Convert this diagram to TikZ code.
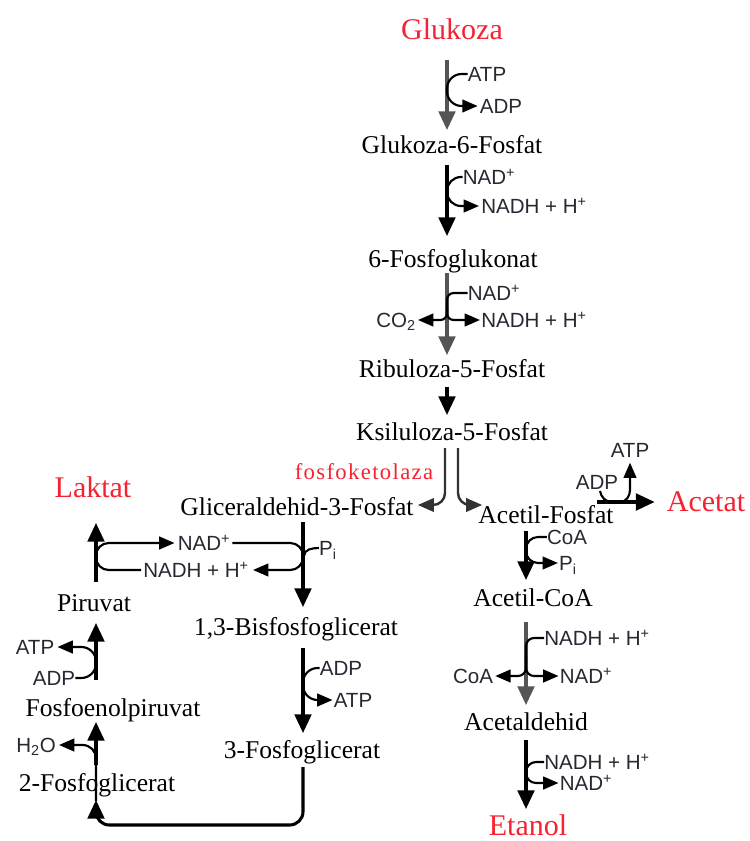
\documentclass[tikz,border=0pt]{standalone}
\usepackage{fontspec}
\setmainfont{Liberation Serif}
\newfontfamily\cofont{Liberation Sans}
\newfontfamily\enzfont[LetterSpace=6]{Liberation Serif}
\usetikzlibrary{arrows.meta,calc}
\definecolor{redlbl}{RGB}{245,35,50}
\definecolor{graypath}{RGB}{85,85,85}
\definecolor{cofcol}{RGB}{40,40,50}
\definecolor{darkpath}{RGB}{50,50,50}
\begin{document}
\begin{tikzpicture}[x=0.75pt,y=-0.75pt,
  metab/.style={inner sep=0pt, font=\fontsize{19.2}{22}\selectfont, text height=12.7pt, text depth=0pt},
  endp/.style={inner sep=0pt, font=\fontsize{22.5}{26}\selectfont, text=redlbl, text height=14.9pt, text depth=0pt},
  enz/.style={inner sep=0pt, font=\enzfont\fontsize{17}{20}\selectfont, text=redlbl, text height=11.2pt, text depth=0pt},
  cof/.style={inner sep=0pt, font=\cofont\fontsize{15.4}{18}\selectfont, text=cofcol, text height=11pt, text depth=0pt},
  flow/.style={line width=2.3pt, -{Triangle[length=14pt,width=12.5pt]}},
  flowgray/.style={flow, draw=graypath, fill=black!80},
  thinflow/.style={line width=1.8pt, draw=darkpath, -{Triangle[length=12pt,width=10pt]}},
  side/.style={line width=1.6pt, draw=black},
  sidearr/.style={side, -{Triangle[length=11.5pt,width=9.5pt]}},
  trim/.style 2 args={shorten <=#1*0.75pt, shorten >=#2*0.75pt},
]
\fill[white] (0,0) rectangle (749,841);
\useasboundingbox (0,0) rectangle (749,841);

% column coordinates
\coordinate (cA) at (447,0);
\coordinate (cL) at (445,0);
\coordinate (cR) at (458,0);
\coordinate (cB) at (303,0);
\coordinate (cC) at (526,0);
\coordinate (cD) at (96,0);
\coordinate (bot) at (0,825);
\coordinate (j3) at (447,307);
\coordinate (j8) at (526,657);

% metabolites
\node[endp] (glukoza) at (452,30) {Glukoza};
\node[metab] (g6p) at (452,145) {Glukoza-6-Fosfat};
\node[metab] (fg) at (453,259) {6-Fosfoglukonat};
\node[metab] (r5p) at (452,369) {Ribuloza-5-Fosfat};
\node[metab] (x5p) at (452,432) {Ksiluloza-5-Fosfat};
\node[enz] (fk) at (364,472) {fosfoketolaza};
\node[metab] (gap) at (297,507) {Gliceraldehid-3-Fosfat};
\node[metab] (af) at (546,515) {Acetil-Fosfat};
\node[endp] (acetat) at (706,502) {Acetat};
\node[endp] (laktat) at (93,488) {Laktat};
\node[metab] (acoa) at (533,598) {Acetil-CoA};
\node[metab] (acald) at (526,722) {Acetaldehid};
\node[endp] (etanol) at (528,826) {Etanol};
\node[metab] (bpg) at (296,627) {1,3-Bisfosfoglicerat};
\node[metab] (pg3) at (302,750) {3-Fosfoglicerat};
\node[metab] (pir) at (94,603) {Piruvat};
\node[metab] (pep) at (113,708) {Fosfoenolpiruvat};
\node[metab] (pg2) at (97,783) {2-Fosfoglicerat};

% cofactors
\node[cof] (atp1) at (487,74) {ATP};
\node[cof] (adp1) at (501,106) {ADP};
\node[cof] (nad1) at (489,177) {NAD\textsuperscript{+}};
\node[cof] (nadh1) at (534,206) {NADH + H\textsuperscript{+}};
\node[cof] (nad2) at (494,293) {NAD\textsuperscript{+}};
\node[cof] (nadh2) at (534,320) {NADH + H\textsuperscript{+}};
\node[cof] (co2) at (396,320) {CO\textsubscript{2}};
\node[cof] (atp3) at (630,450) {ATP};
\node[cof] (adp3) at (597,482) {ADP};
\node[cof] (nad4) at (204,543) {NAD\textsuperscript{+}};
\node[cof] (nadh4) at (196,570) {NADH + H\textsuperscript{+}};
\node[cof] (pi4) at (328,548) {P\textsubscript{i}};
\node[cof] (coa5) at (567,537) {CoA};
\node[cof] (pi5) at (568,563) {P\textsubscript{i}};
\node[cof] (nadh6) at (597,638) {NADH + H\textsuperscript{+}};
\node[cof] (coa6) at (473,676) {CoA};
\node[cof] (nad6) at (586,676) {NAD\textsuperscript{+}};
\node[cof] (nadh7) at (597,762) {NADH + H\textsuperscript{+}};
\node[cof] (nad7) at (586,783) {NAD\textsuperscript{+}};
\node[cof] (adp8) at (341,668) {ADP};
\node[cof] (atp8) at (353,700) {ATP};
\node[cof] (atp9) at (35,647) {ATP};
\node[cof] (adp9) at (54,678) {ADP};
\node[cof] (h2o) at (36,745) {H\textsubscript{2}O};

% main arrows
\draw[flowgray, trim={30}{15}] (glukoza.center -| cA) -- (g6p.center -| cA);
\draw[flow, trim={20}{23}] (g6p.center -| cA) -- (fg.center -| cA);
\draw[flowgray, trim={14}{14}] (fg.center -| cA) -- (r5p.center -| cA);
\draw[flow, trim={18}{17}] (r5p.center -| cA) -- (x5p.center -| cA);
\draw[thinflow, rounded corners=9pt, trim={16}{4}] (x5p.center -| cL) |- ([yshift=1.5pt]gap.east);
\draw[thinflow, rounded corners=9pt, trim={16}{0}] (x5p.center -| cR) |- ([shift={(4,-10)}]af.west);
\draw[flow, trim={15}{20}] (gap.center -| cB) -- (bpg.center -| cB);
\draw[flow, trim={21}{17}] (bpg.center -| cB) -- (pg3.center -| cB);
\draw[flow, rounded corners=10pt, trim={17}{17}] (pg3.center -| cB) |- (bot -| cD) -- (pg2.center -| cD);
\draw[flow, trim={18}{14}] (pg2.center -| cD) -- (pep.center -| cD);
\draw[flow, trim={28}{20}] (pep.center -| cD) -- (pir.center -| cD);
\draw[flow, trim={21}{35}] (pir.center -| cD) -- (laktat.center -| cD);
\draw[flow, trim={16}{18}] (af.center -| cC) -- (acoa.center -| cC);
\draw[flowgray, trim={24}{17}] (acoa.center -| cC) -- (acald.center -| cC);
\draw[flow, trim={18}{17}] (acald.center -| cC) -- (etanol.center -| cC);
\draw[flow, trim={0}{12}] ([shift={(51,-13)}]af.center) -- (acetat.west);

% side reactions
\draw[sidearr, rounded corners=11pt, trim={0}{2}] (atp1.west) -| (cA |- adp1.west) -- (adp1.west);
\draw[sidearr, rounded corners=10.5pt, trim={0}{2}] (nad1.west) -| (cA |- nadh1.west) -- (nadh1.west);
\draw[side, rounded corners=5pt] (nad2.west) -| (j3);
\draw[sidearr, rounded corners=5pt, trim={0}{1}] (j3) |- (nadh2.west);
\draw[sidearr, rounded corners=5pt, trim={0}{2}] (j3) |- (co2.east);
\draw[sidearr, trim={0}{5}] ([shift={(3,9)}]adp3.center) to[out=-80,in=180] ++(12,11) -- ++(8,0) to[out=0,in=-90] ++(10,-12) -- (atp3.south);
\draw[sidearr, rounded corners=9.5pt, trim={2}{4}] (nad4.east) -| (cB |- nadh4.east) -- (nadh4.east);
\draw[side] (pi4.west) to[out=180,in=90] ++(-15,8);
\draw[sidearr, rounded corners=9.5pt, trim={2}{3}] (nadh4.west) -| (cD |- nad4.west) -- (nad4.west);
\draw[sidearr, rounded corners=9pt, trim={0}{1}] (coa5.west) -| (cC |- pi5.west) -- (pi5.west);
\draw[side, rounded corners=6pt] (nadh6.west) -| (j8);
\draw[sidearr, rounded corners=6pt, trim={0}{2}] (j8) |- (coa6.east);
\draw[sidearr, rounded corners=6pt, trim={0}{1}] (j8) |- (nad6.west);
\draw[sidearr, rounded corners=7.5pt, trim={0}{1}] (nadh7.west) -| (cC |- nad7.west) -- (nad7.west);
\draw[sidearr, rounded corners=11pt, trim={0}{1}] (adp8.west) -| (cB |- atp8.west) -- (atp8.west);
\draw[sidearr, rounded corners=11pt, trim={0}{3}] (adp9.east) -| (cD |- atp9.east) -- (atp9.east);
\draw[sidearr, rounded corners=10pt, trim={0}{3}] ([yshift=-13.5pt]pg2.center -| cD) |- (h2o.east);
\end{tikzpicture}
\end{document}
